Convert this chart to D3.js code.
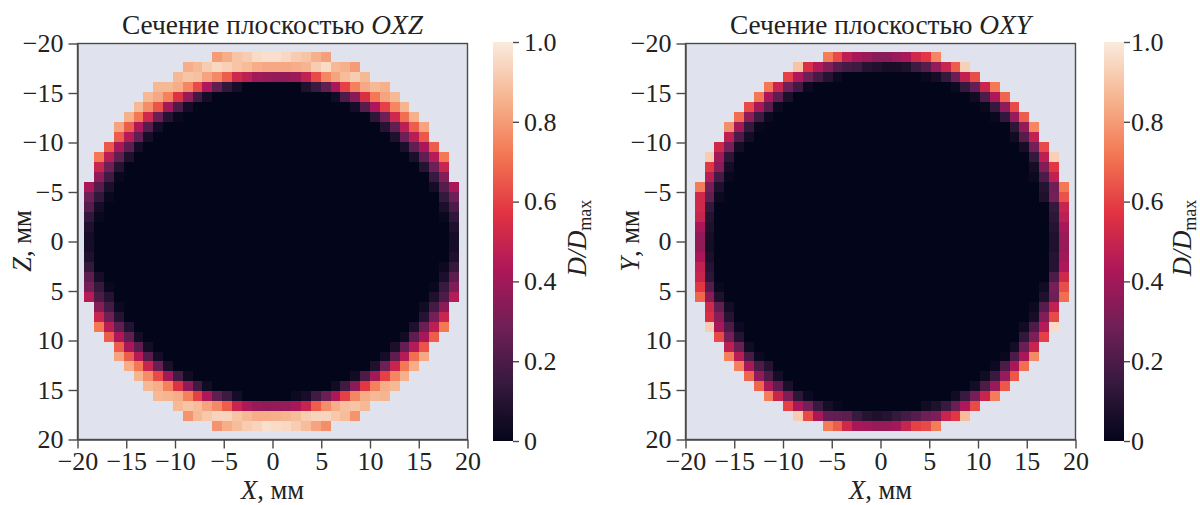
<!DOCTYPE html>
<html lang="ru">
<head>
<meta charset="UTF-8">
<title>Сечения D/Dmax</title>
<script src="https://cdn.jsdelivr.net/npm/d3@7"></script>
<style>
    html, body { margin: 0; padding: 0; background: #fff; }
    svg { display: block; }
    text { font-family: "Liberation Serif", serif; fill: #222; }
    .tick text { font-size: 26px; font-family: "Liberation Serif", serif; }
    .tick line, .domain { stroke: #4a4a4a; stroke-width: 1.4px; }
    .cbar .domain { display: none; }
</style>
</head>
<body>
<svg id="chart" width="1200" height="505"></svg>
<script>
const axisTicks = [-20, -15, -10, -5, 0, 5, 10, 15, 20];
const barTicks = [0, 0.2, 0.4, 0.6, 0.8, 1];
const rocketStops = ["#03051a", "#35193e", "#701f57", "#ad1759", "#e13342", "#f37651", "#f6b48f", "#faebdd"];

// index of first filled column in each of the 38 rows, the last filled one is 37 - start
const rowStart = [13, 10, 9, 7, 6, 5, 4, 3, 3, 2, 1, 1, 1, 0, 0, 0, 0, 0, 0, 0, 0, 0, 0, 0, 0, 1, 1, 1, 2, 3, 3, 4, 5, 6, 7, 9, 10, 13];

const oxzLeft = [
    [80, 84, 90, 92, 96, 97],
    [84, 87, 92, 95, 93, 90, 88, 84, 83],
    [87, 90, 89, 82, 76, 66, 52, 47, 40, 38],
    [87, 87, 84, 75, 62, 43, 25, 13, 6],
    [87, 83, 74, 56, 37, 17, 5],
    [87, 77, 64, 40, 20, 5],
    [85, 72, 52, 27, 10, 2],
    [82, 66, 43, 22, 5],
    [66, 45, 25, 6],
    [65, 42, 24, 5],
    [72, 46, 25, 8],
    [50, 28, 10],
    [36, 17, 2],
    [42, 22, 7],
    [28, 13, 2],
    [22, 5],
    [13, 2],
    [8],
    [5],
    [6],
    [8],
    [14],
    [24, 6],
    [30, 14, 2],
    [45, 20, 10],
    [34, 18, 3],
    [50, 28, 10],
    [72, 46, 25, 9],
    [66, 43, 25, 5],
    [66, 42, 24, 5],
    [82, 66, 45, 22, 5],
    [84, 72, 50, 27, 7],
    [86, 77, 62, 40, 18, 4],
    [87, 84, 74, 56, 36, 17, 4],
    [87, 86, 84, 74, 60, 43, 25, 16, 5],
    [87, 90, 88, 82, 76, 66, 50, 43, 38, 36],
    [78, 87, 91, 94, 94, 90, 87, 84, 84],
    [78, 84, 88, 92, 94, 97]
];
const oxzRight = [
    [81, 85, 90, 92, 95, 97],
    [80, 85, 87, 96, 92, 86, 84, 83, 83],
    [87, 92, 88, 82, 75, 62, 48, 39, 37, 37],
    [85, 87, 83, 74, 60, 42, 25, 15, 8],
    [87, 82, 72, 55, 35, 20, 4],
    [86, 75, 60, 43, 22, 5],
    [85, 70, 52, 28, 12],
    [82, 66, 47, 25, 10],
    [65, 46, 28, 8],
    [66, 42, 25, 7],
    [72, 45, 25, 7],
    [50, 28, 10],
    [33, 15],
    [42, 22, 5],
    [28, 14],
    [20, 7],
    [13, 2],
    [8],
    [5],
    [6],
    [8],
    [14, 3],
    [24, 7],
    [32, 15, 2],
    [45, 20, 8],
    [35, 18, 4],
    [50, 30, 10],
    [72, 47, 27, 8],
    [66, 42, 24, 4],
    [64, 45, 26, 7],
    [83, 70, 45, 24, 5],
    [84, 72, 50, 28, 8],
    [85, 75, 60, 40, 20, 4],
    [87, 84, 74, 58, 35, 17, 4],
    [86, 87, 84, 75, 60, 43, 27, 17, 6, 3],
    [87, 90, 89, 84, 77, 66, 50, 42, 38, 37],
    [78, 88, 91, 94, 94, 92, 88, 86, 85],
    [77, 82, 88, 92, 95, 96]
];
const oxyLeft = [
    [73, 62, 47, 42, 38, 34],
    [90, 55, 44, 33, 22, 18, 16, 10, 8],
    [60, 43, 28, 18, 10, 3],
    [72, 50, 28, 17, 3],
    [72, 42, 24, 7],
    [62, 42, 22, 3],
    [70, 36, 16, 3],
    [77, 40, 14, 2],
    [47, 20, 5],
    [52, 30, 5],
    [92, 40, 12],
    [58, 35, 5],
    [46, 18, 2],
    [73, 30, 8],
    [52, 25, 3],
    [52, 14],
    [50, 10],
    [42, 8],
    [36, 6],
    [36, 5],
    [42, 7],
    [48, 10],
    [50, 12],
    [58, 22, 2],
    [68, 35, 8],
    [52, 25, 5],
    [55, 34, 10],
    [92, 42, 20, 3],
    [62, 30, 10],
    [47, 27, 4],
    [74, 46, 19, 3],
    [74, 42, 20, 10],
    [68, 36, 20, 5],
    [68, 42, 24, 7],
    [73, 50, 32, 12, 3],
    [60, 42, 30, 15, 6, 2],
    [92, 62, 42, 26, 25, 24, 15, 10, 8],
    [73, 66, 52, 42, 40, 38]
];
const oxyRight = [
    [75, 58, 52, 42, 38, 35],
    [93, 66, 50, 37, 22, 16, 8, 6, 6],
    [63, 48, 27, 14, 5, 2],
    [72, 50, 26, 14, 3],
    [68, 43, 20, 4],
    [62, 36, 14, 2],
    [66, 38, 13, 2],
    [75, 37, 12],
    [48, 22, 4],
    [62, 30, 6],
    [93, 47, 14],
    [58, 33, 5],
    [48, 20, 3],
    [72, 28, 10],
    [64, 30, 8],
    [50, 14],
    [47, 12],
    [42, 10],
    [38, 8],
    [38, 8],
    [40, 10],
    [43, 10],
    [52, 20],
    [63, 30, 4],
    [70, 28, 8],
    [48, 22, 3],
    [62, 33, 6],
    [96, 45, 20, 4],
    [60, 32, 13],
    [50, 27, 5],
    [76, 42, 20, 2],
    [70, 42, 20, 3],
    [65, 38, 15, 4],
    [65, 38, 20, 5],
    [73, 50, 30, 15, 4],
    [62, 43, 27, 15, 8, 4],
    [88, 58, 50, 32, 28, 22, 18, 14, 10],
    [73, 62, 60, 50, 40, 38]
];

const svg = d3.select("#chart");
const rocket = d3.scaleLinear()
    .domain(d3.range(rocketStops.length).map(i => i / (rocketStops.length - 1)))
    .range(rocketStops);

svg.append("defs").append("linearGradient")
    .attr("id", "rocketBar")
    .attr("x1", 0).attr("x2", 0).attr("y1", 1).attr("y2", 0)
    .selectAll("stop")
    .data(rocketStops)
    .enter().append("stop")
    .attr("offset", (d, i) => i / (rocketStops.length - 1))
    .attr("stop-color", d => d);

// whole 38 x 38 table out of the edge values
function buildCells(left, right) {
    const cells = [];
    rowStart.forEach((start, row) => {
        const end = 37 - start;
        d3.range(start, end + 1).forEach(col => {
            let v = 0;
            if (col - start < left[row].length) v = left[row][col - start];
            else if (end - col < right[row].length) v = right[row][end - col];
            cells.push({row: row, col: col, v: v / 100});
        });
    });
    return cells;
}

function drawPanel(o) {
    const top = 43.5, bottom = 439.5;
    const x = d3.scaleLinear().domain([-20, 20]).range([o.left, o.right]);
    const y = d3.scaleLinear().domain([-20, 20]).range([top, bottom]);
    const colX = d3.scaleBand().domain(d3.range(38)).range([x(o.gridFrom), x(o.gridTo)]);
    const rowY = d3.scaleBand().domain(d3.range(38)).range([y(-19.1), y(19.17)]);

    svg.append("rect")
        .attr("x", o.left).attr("y", top)
        .attr("width", o.right - o.left).attr("height", bottom - top)
        .attr("fill", "#e0e3ed");

    svg.append("g").selectAll("rect")
        .data(o.cells)
        .enter().append("rect")
        .attr("x", d => colX(d.col))
        .attr("y", d => rowY(d.row))
        .attr("width", colX.bandwidth())
        .attr("height", rowY.bandwidth())
        .attr("fill", d => rocket(d.v))
        .attr("shape-rendering", "crispEdges");

    // frame
    svg.append("rect")
        .attr("x", o.left).attr("y", top)
        .attr("width", o.right - o.left).attr("height", bottom - top)
        .attr("fill", "none").attr("stroke", "#4a4a4a").attr("stroke-width", 1.4);

    svg.append("g")
        .attr("transform", "translate(0," + bottom + ")")
        .call(d3.axisBottom(x).tickValues(axisTicks).tickSize(9).tickPadding(3).tickSizeOuter(0));
    svg.append("g")
        .attr("transform", "translate(" + o.left + ",0)")
        .call(d3.axisLeft(y).tickValues(axisTicks).tickSize(9).tickPadding(5).tickSizeOuter(0));

    const title = svg.append("text")
        .attr("x", (o.left + o.right) / 2).attr("y", 34)
        .attr("text-anchor", "middle").attr("font-size", 27.4);
    title.append("tspan").text("Сечение плоскостью ");
    title.append("tspan").attr("font-style", "italic").text(o.plane);

    const xLabel = svg.append("text")
        .attr("x", (o.left + o.right) / 2).attr("y", 499)
        .attr("text-anchor", "middle").attr("font-size", 26.5);
    xLabel.append("tspan").attr("font-style", "italic").text("X");
    xLabel.append("tspan").text(", мм");

    const yLabel = svg.append("text")
        .attr("transform", "translate(" + (o.left - 47) + ",241) rotate(-90)")
        .attr("text-anchor", "middle").attr("font-size", 26.5);
    yLabel.append("tspan").attr("font-style", "italic").text(o.yName);
    yLabel.append("tspan").text(", мм");

    // colorbar
    const barY = d3.scaleLinear().domain([0, 1]).range([441, 42]);
    svg.append("rect")
        .attr("x", o.barLeft).attr("y", barY(1))
        .attr("width", 20).attr("height", barY(0) - barY(1))
        .attr("fill", "url(#rocketBar)");
    svg.append("g")
        .attr("class", "cbar")
        .attr("transform", "translate(" + (o.barLeft + 20) + ",0)")
        .call(d3.axisRight(barY).tickValues(barTicks).tickSize(6).tickPadding(o.barPad)
            .tickFormat(d => d === 0 ? "0" : d3.format(".1f")(d)));

    const barLabel = svg.append("text")
        .attr("transform", "translate(" + o.barLabelX + ",238) rotate(-90)")
        .attr("text-anchor", "middle").attr("font-size", 26.5);
    barLabel.append("tspan").attr("font-style", "italic").text("D/D");
    barLabel.append("tspan").attr("font-size", 18).attr("dy", 5).text("max");
}

drawPanel({
    plane: "OXZ", yName: "Z", cells: buildCells(oxzLeft, oxzRight),
    left: 77.5, right: 467.5, gridFrom: -19.31, gridTo: 19.1,
    barLeft: 493, barPad: 5, barLabelX: 586
});
drawPanel({
    plane: "OXY", yName: "Y", cells: buildCells(oxyLeft, oxyRight),
    left: 685.5, right: 1075.5, gridFrom: -19.05, gridTo: 19.3,
    barLeft: 1104, barPad: 1, barLabelX: 1191
});
</script>
</body>
</html>
